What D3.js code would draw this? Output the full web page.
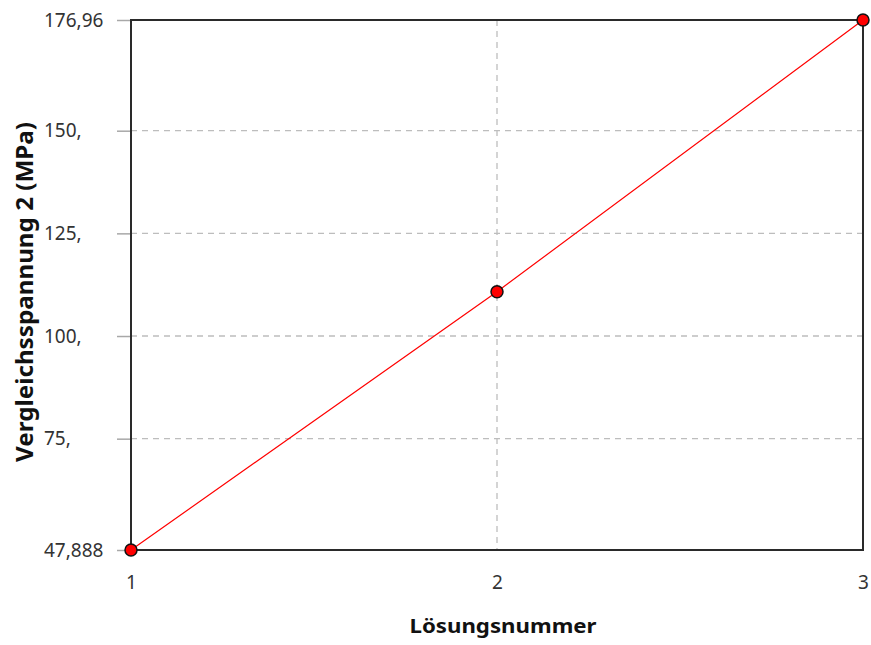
<!DOCTYPE html>
<html>
<head>
<meta charset="utf-8">
<script src="https://cdn.jsdelivr.net/npm/d3@7"></script>
<style>
  body { margin: 0; background: #fff; }
  text { font-family: "Noto Sans", "Open Sans", sans-serif; }
</style>
</head>
<body>
<svg id="chart" width="871" height="645"></svg>
<script>
// data
const solutions = [1, 2, 3];
const stress = [47.888, 110.8, 176.96];
const yTicks = [47.888, 75, 100, 125, 150, 176.96];
const yTickLabels = ["47,888", "75,", "100,", "125,", "150,", "176,96"];

const svg = d3.select("#chart");
const pLeft = 131, pRight = 863, pTop = 20, pBottom = 550;

const x = d3.scaleLinear().domain([1, 3]).range([pLeft, pRight]);
const y = d3.scaleLinear().domain([47.888, 176.96]).range([pBottom, pTop]);

// grid lines
const grid = svg.append("g");
grid.selectAll("line.h").data(yTicks.slice(1, -1)).join("line")
    .attr("x1", pLeft).attr("x2", pRight)
    .attr("y1", d => y(d)).attr("y2", d => y(d))
    .attr("stroke", "#bdbdbd").attr("stroke-width", 1.3).attr("stroke-dasharray", "6,5");
grid.selectAll("line.v").data([2]).join("line")
    .attr("x1", d => x(d)).attr("x2", d => x(d))
    .attr("y1", pTop).attr("y2", pBottom)
    .attr("stroke", "#bdbdbd").attr("stroke-width", 1.3).attr("stroke-dasharray", "6,5");

// y axis - labels are left aligned in the original
const yAxis = d3.axisLeft(y).tickValues(yTicks)
    .tickFormat((d, i) => yTickLabels[i]).tickSize(14);
const gy = svg.append("g").attr("transform", `translate(${pLeft},0)`).call(yAxis);
gy.select(".domain").remove();
gy.selectAll(".tick line").attr("stroke", "#a8a8a8").attr("stroke-width", 1.5);
gy.selectAll(".tick text")
    .attr("x", 44 - pLeft).attr("text-anchor", "start")
    .attr("font-size", 19).attr("fill", "#333");

// x axis
const xAxis = d3.axisBottom(x).tickValues(solutions).tickFormat(d3.format("d")).tickSize(0).tickPadding(26);
const gx = svg.append("g").attr("transform", `translate(0,${pBottom})`).call(xAxis);
gx.select(".domain").remove();
gx.selectAll(".tick text").attr("font-size", 19).attr("fill", "#333");

// frame
svg.append("rect")
    .attr("x", pLeft).attr("y", pTop)
    .attr("width", pRight - pLeft).attr("height", pBottom - pTop)
    .attr("fill", "none").attr("stroke", "#2a2a2a").attr("stroke-width", 2);

// line
const line = d3.line().x((d, i) => x(solutions[i])).y(d => y(d));
svg.append("path").datum(stress)
    .attr("d", line).attr("fill", "none")
    .attr("stroke", "#ff0000").attr("stroke-width", 1.2);

svg.append("g").selectAll("circle").data(stress).join("circle")
    .attr("cx", (d, i) => x(solutions[i]))
    .attr("cy", d => y(d))
    .attr("r", 6)
    .attr("fill", "#ff0000").attr("stroke", "#111").attr("stroke-width", 1.5);

// axis titles
svg.append("text")
    .attr("x", 503).attr("y", 633)
    .attr("text-anchor", "middle").attr("font-size", 20).attr("font-weight", "bold")
    .attr("textLength", 187).attr("lengthAdjust", "spacingAndGlyphs")
    .attr("fill", "#111")
    .text("Lösungsnummer");

svg.append("text")
    .attr("transform", "translate(33,292) rotate(-90)")
    .attr("text-anchor", "middle").attr("font-size", 23).attr("font-weight", "bold")
    .attr("textLength", 340).attr("lengthAdjust", "spacingAndGlyphs")
    .attr("fill", "#111")
    .text("Vergleichsspannung 2 (MPa)");
</script>
</body>
</html>
